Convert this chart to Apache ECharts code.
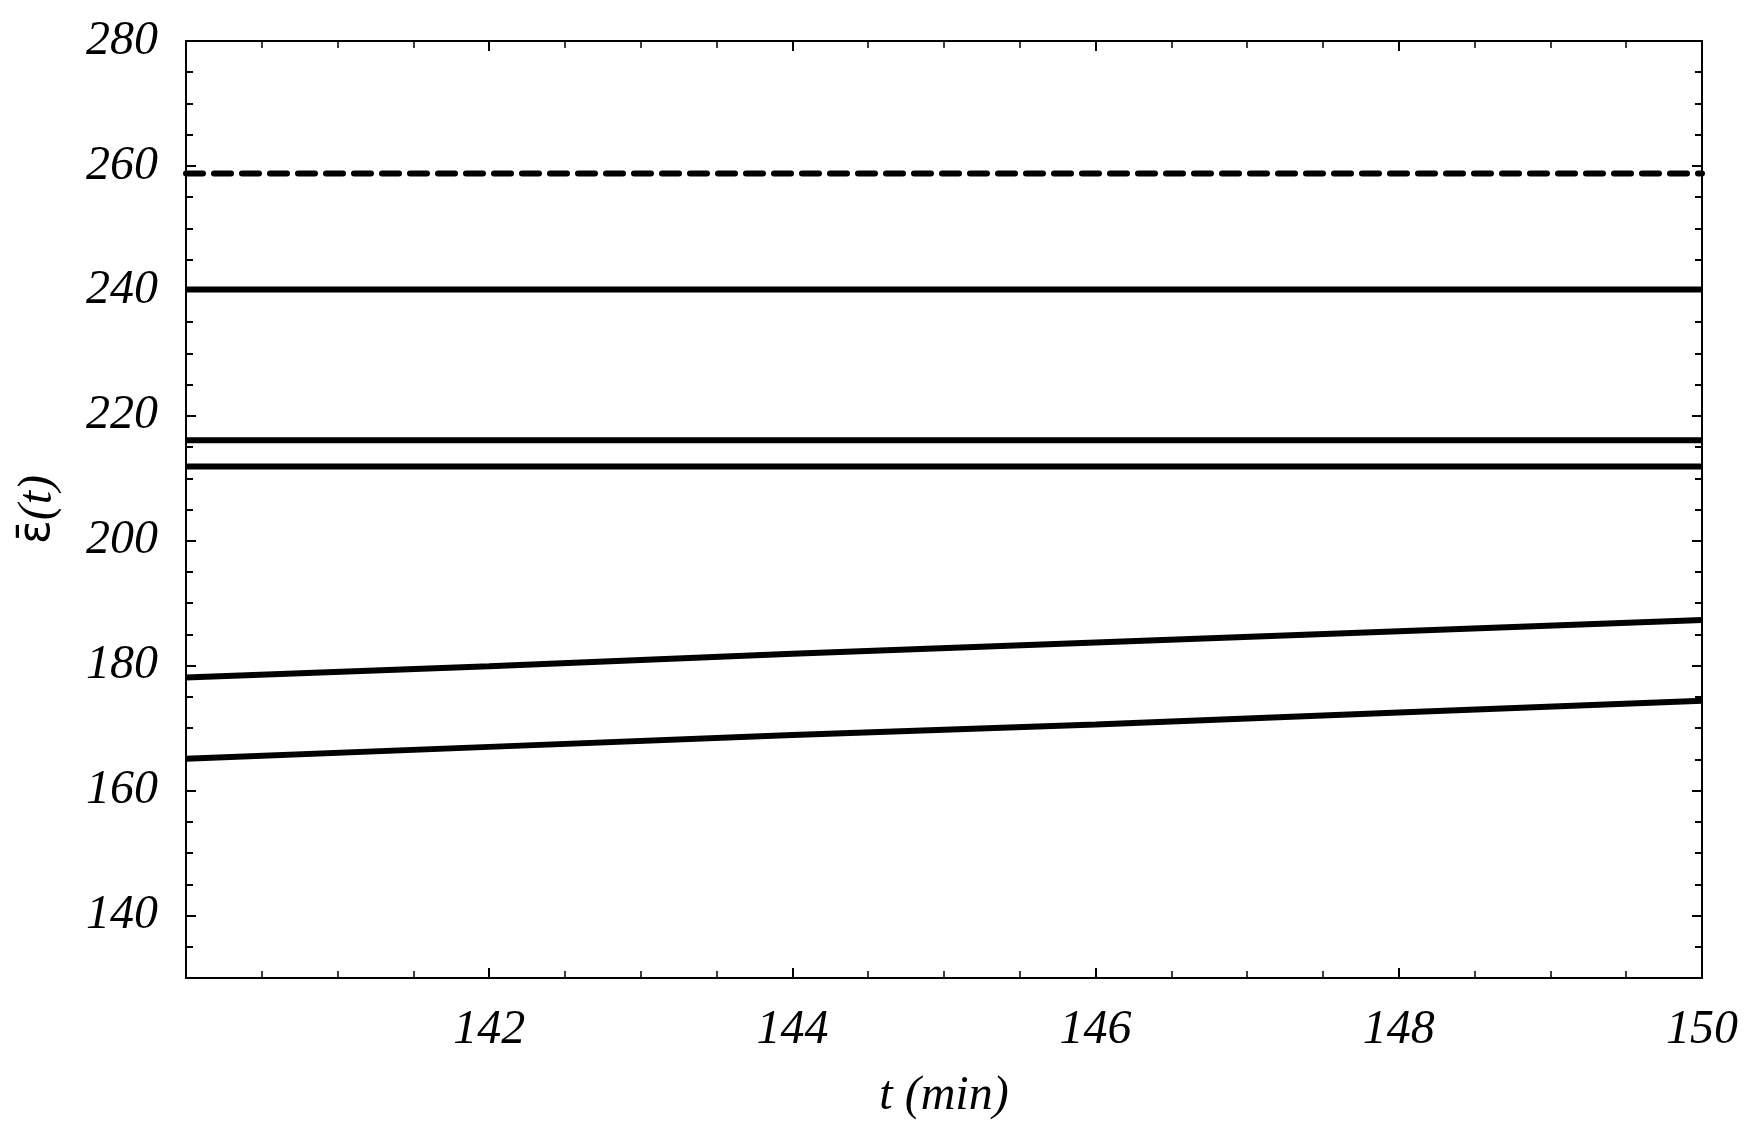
<!DOCTYPE html>
<html>
<head>
<meta charset="utf-8">
<script src="https://cdn.jsdelivr.net/npm/echarts@6/dist/echarts.min.js"></script>
<style>
  html, body { margin: 0; padding: 0; background: #fff; }
  #chart { width: 1756px; height: 1139px; }
</style>
</head>
<body>
<div id="chart"></div>
<script>
// time points (min)
const tVals = [140, 142, 144, 146, 148, 150];
// curves
const dashedTop = [258.8, 258.8, 258.8, 258.8, 258.8, 258.8];
const line240 = [240.2, 240.2, 240.2, 240.2, 240.2, 240.2];
const line216 = [216.1, 216.1, 216.1, 216.1, 216.1, 216.1];
const line212 = [211.9, 211.9, 211.9, 211.9, 211.9, 211.9];
const riseUpper = [178.1, 179.9, 181.9, 183.7, 185.5, 187.3];
const riseLower = [165.1, 167.0, 168.9, 170.6, 172.5, 174.4];
// tick values
const yMajor = [140, 160, 180, 200, 220, 240, 260, 280];
const yMinor = [135, 145, 150, 155, 165, 170, 175, 185, 190, 195, 205, 210, 215,
  225, 230, 235, 245, 250, 255, 265, 270, 275];

const font = "'Liberation Serif', 'Times New Roman', serif";
const black = '#000';

function pairs(ys) {
  return tVals.map((t, i) => [t, ys[i]]);
}

function lineSeries(ys, dashed) {
  return {
    type: 'line',
    data: pairs(ys),
    showSymbol: false,
    silent: true,
    lineStyle: {
      color: black,
      width: 6,
      type: dashed ? [17, 11] : 'solid',
      cap: dashed ? 'round' : 'butt'
    }
  };
}

function xAx(pos, labels) {
  return {
    type: 'value',
    position: pos,
    min: 140,
    max: 150,
    interval: 2,
    name: labels ? 't (min)' : '',
    nameLocation: 'middle',
    nameGap: 94,
    nameTextStyle: { fontFamily: font, fontStyle: 'italic', fontSize: 48, color: black },
    axisLine: { show: true, onZero: false, lineStyle: { color: black, width: 2 } },
    axisTick: { show: true, inside: true, length: 10, lineStyle: { color: black, width: 2 } },
    minorTick: { show: true, splitNumber: 4, length: 7, lineStyle: { color: black, width: 1.5 } },
    splitLine: { show: false },
    minorSplitLine: { show: false },
    axisLabel: {
      show: labels,
      showMinLabel: false,
      margin: 28,
      fontFamily: font,
      fontStyle: 'italic',
      fontSize: 48,
      color: black
    }
  };
}

function yAx(pos, labels, ticks, len, withLine) {
  return {
    type: 'value',
    position: pos,
    min: 130,
    max: 280,
    interval: 5,
    name: labels ? '{e|ε̄}{t|(t)}' : '',
    nameLocation: 'middle',
    nameGap: 124,
    nameTextStyle: {
      rich: {
        e: { fontFamily: "'DejaVu Sans', sans-serif", fontSize: 44, color: black },
        t: { fontFamily: font, fontStyle: 'italic', fontSize: 48, color: black }
      }
    },
    axisLine: { show: withLine, onZero: false, lineStyle: { color: black, width: 2 } },
    axisTick: {
      show: true,
      inside: true,
      length: len,
      customValues: ticks,
      lineStyle: { color: black, width: 2 }
    },
    splitLine: { show: false },
    axisLabel: {
      show: labels,
      customValues: yMajor,
      margin: 28,
      fontFamily: font,
      fontStyle: 'italic',
      fontSize: 48,
      color: black
    }
  };
}

const chart = echarts.init(document.getElementById('chart'));
chart.setOption({
  backgroundColor: '#fff',
  animation: false,
  grid: { left: 186, right: 54, top: 41, bottom: 161, containLabel: false },
  xAxis: [xAx('bottom', true), xAx('top', false)],
  yAxis: [
    yAx('left', true, yMajor, 10, true),
    yAx('left', false, yMinor, 7, false),
    yAx('right', false, yMajor, 10, true),
    yAx('right', false, yMinor, 7, false)
  ],
  series: [
    lineSeries(dashedTop, true),
    lineSeries(line240, false),
    lineSeries(line216, false),
    lineSeries(line212, false),
    lineSeries(riseUpper, false),
    lineSeries(riseLower, false)
  ]
});
</script>
</body>
</html>
